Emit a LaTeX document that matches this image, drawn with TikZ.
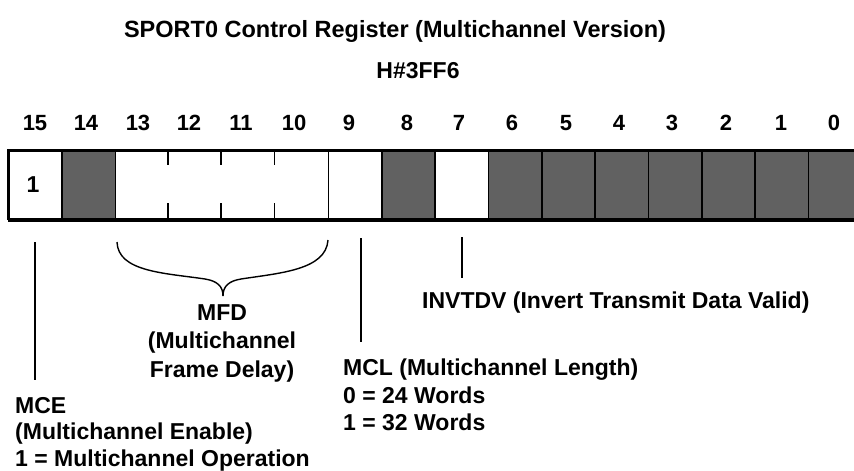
\documentclass[tikz,border=0pt]{standalone}
\usepackage{fontspec}
\setmainfont{Liberation Sans}
\begin{document}
\begin{tikzpicture}[x=1pt,y=-1pt,
  lab/.style={font=\bfseries\fontsize{23}{27}\selectfont, inner sep=0, anchor=base west},
  clab/.style={font=\bfseries\fontsize{23}{27}\selectfont, inner sep=0, anchor=base},
  num/.style={font=\bfseries\fontsize{22}{26}\selectfont, inner sep=0, anchor=base},
  regcell/.style={draw=black, line width=1.6pt, inner sep=0, minimum height=69pt, anchor=north west},
  shade/.style={fill=black!62},
  blank/.style={fill=white},
  lead/.style={line width=1.4pt}]
\useasboundingbox (0,0) rectangle (854,471);

% title
\node[clab, font=\bfseries\fontsize{23.5}{27}\selectfont] (title) at (395,37) {SPORT0 Control Register (Multichannel Version)};
\node[clab] (addr) at (418,78) {H\#3FF6};

% register cells
\node[regcell, blank, minimum width=53.3pt] (c15) at (8,150) {};
\node[regcell, shade, minimum width=53.3pt] (c14) at (61.3,150) {};
\node[regcell, blank, minimum width=213.2pt] (cmfd) at (114.6,150) {};
\node[regcell, blank, minimum width=53.3pt] (c9) at (327.8,150) {};
\node[regcell, shade, minimum width=53.3pt] (c8) at (381.1,150) {};
\node[regcell, blank, minimum width=53.3pt] (c7) at (434.4,150) {};
\node[regcell, shade, minimum width=53.3pt] (c6) at (487.7,150) {};
\node[regcell, shade, minimum width=53.3pt] (c5) at (541,150) {};
\node[regcell, shade, minimum width=53.3pt] (c4) at (594.3,150) {};
\node[regcell, shade, minimum width=53.3pt] (c3) at (647.6,150) {};
\node[regcell, shade, minimum width=53.3pt] (c2) at (700.9,150) {};
\node[regcell, shade, minimum width=53.3pt] (c1) at (754.2,150) {};
\node[regcell, shade, minimum width=53.3pt] (c0) at (807.5,150) {};

% ticks inside MFD field
\foreach \x in {167.9,221.2,274.5} {
  \draw[line width=1.6pt] (\x,150) -- (\x,165);
  \draw[line width=1.6pt] (\x,203) -- (\x,219);
}
% outer border
\draw[line width=2.6pt] (8,150) rectangle (862,219);
\draw[line width=4pt] (8,219.5) -- (862,219.5);

% value in bit 15
\node[clab] (v15) at (33,192) {1};

% bit numbers
\foreach \b/\x in {15/35,14/86,13/138,12/189,11/241,10/294,9/349,8/407,7/459,6/512,5/566,4/619,3/672,2/726,1/781,0/834} {
  \node[num] (n\b) at (\x,130) {\b};
}

% MCE
\coordinate (mceA) at (35,242);
\coordinate (mceB) at (35,380);
\draw[lead] (mceA) -- (mceB);
\node[lab] (mce1) at (15,413) {MCE};
\node[lab] (mce2) at (15,439) {(Multichannel Enable)};
\node[lab] (mce3) at (15,466) {1 = Multichannel Operation};

% MFD brace
\coordinate (brL) at (117,242);
\coordinate (brR) at (328,240);
\coordinate (brT) at (223,296);
\draw[lead] (brL) .. controls (118,272) and (165,273) .. (205,279)
  .. controls (217,281) and (223,286) .. (brT);
\draw[lead] (brR) .. controls (326,270) and (280,273) .. (241,279)
  .. controls (229,281) and (223,286) .. (brT);
\node[clab] (mfd1) at (222,320) {MFD};
\node[clab] (mfd2) at (222,348) {(Multichannel};
\node[clab] (mfd3) at (222,377) {Frame Delay)};

% MCL
\coordinate (mclA) at (361,238);
\coordinate (mclB) at (361,342);
\draw[lead] (mclA) -- (mclB);
\node[lab] (mcl1) at (343,375) {MCL (Multichannel Length)};
\node[lab] (mcl2) at (343,403) {0 = 24 Words};
\node[lab] (mcl3) at (343,430) {1 = 32 Words};

% INVTDV
\coordinate (invA) at (462,237);
\coordinate (invB) at (462,278);
\draw[lead] (invA) -- (invB);
\node[lab] (inv) at (422,308) {INVTDV (Invert Transmit Data Valid)};
\end{tikzpicture}
\end{document}
